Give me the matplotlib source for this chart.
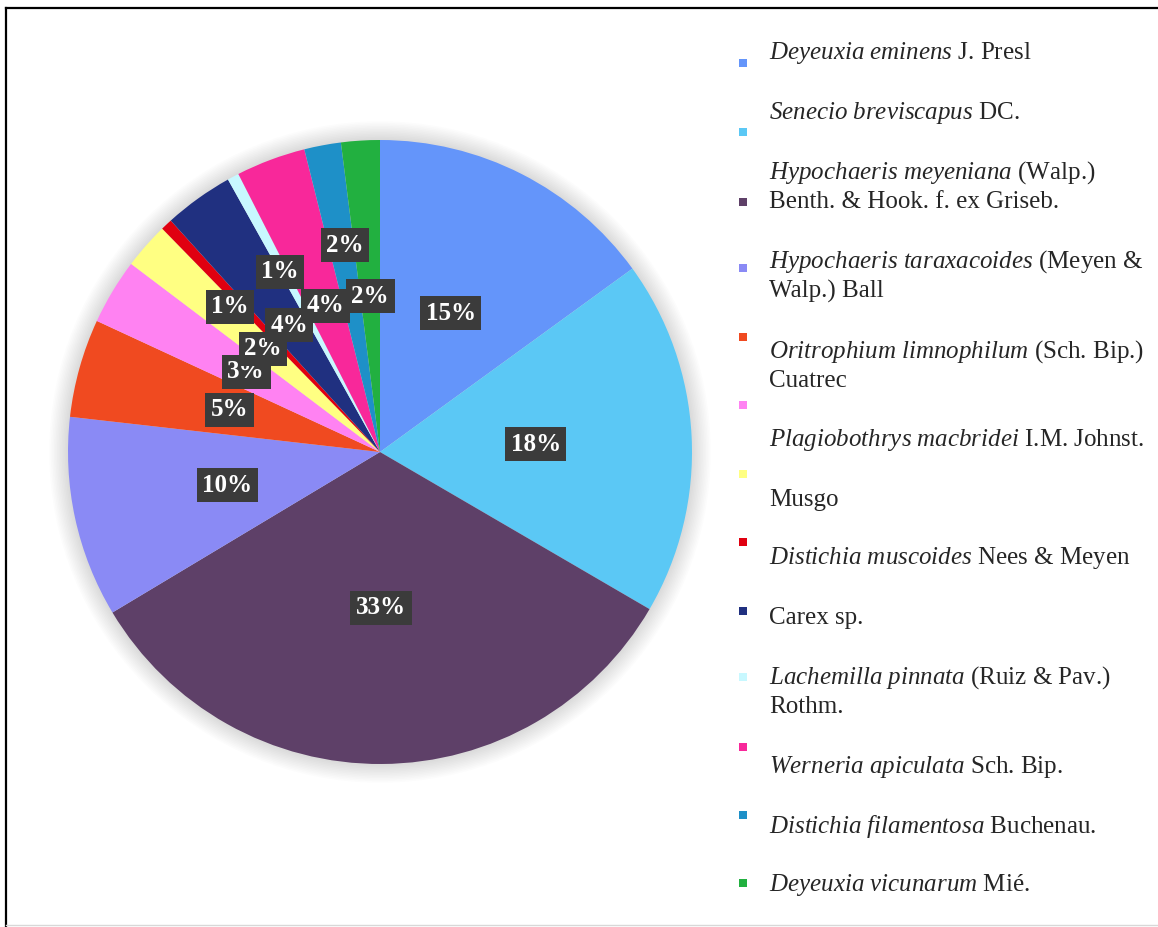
import matplotlib
matplotlib.use("Agg")
import matplotlib.pyplot as plt
from matplotlib.patches import Circle

plt.rcParams["font.family"] = ["Liberation Serif", "DejaVu Serif"]
plt.rcParams["mathtext.fontset"] = "custom"
plt.rcParams["mathtext.rm"] = "Liberation Serif"
plt.rcParams["mathtext.it"] = "Liberation Serif:italic"

# cobertura por especie (%)
valores = [15.0, 18.4, 33.0, 10.4, 5.1, 3.4, 2.4, 0.6, 3.6, 0.6, 3.6, 1.9, 2.0]

colores = ["#6495fa", "#5bc8f5", "#5e4068", "#8a8af5", "#f04a20", "#ff82f2",
           "#ffff82", "#e00010", "#203080", "#c8f8ff", "#f8289a", "#1e90c8",
           "#22b040"]

# nombre en cursiva + autor (en redonda)
especies = ["Deyeuxia eminens", "Senecio breviscapus", "Hypochaeris meyeniana",
            "Hypochaeris taraxacoides", "Oritrophium limnophilum",
            "Plagiobothrys macbridei", "", "Distichia muscoides", "",
            "Lachemilla pinnata", "Werneria apiculata",
            "Distichia filamentosa", "Deyeuxia vicunarum"]
autores = ["J. Presl", "DC.", "(Walp.)\nBenth. & Hook. f. ex Griseb.",
           "(Meyen &\nWalp.) Ball", "(Sch. Bip.)\nCuatrec", "I.M. Johnst.",
           "Musgo", "Nees & Meyen", "Carex sp.", "(Ruiz & Pav.)\nRothm.",
           "Sch. Bip.", "Buchenau.", "Mié."]

# posicion de la leyenda (pixeles): primera linea de texto y marcador
leg_texto_y = [53, 113, 173, 262, 352, 440, 500, 558, 618, 678, 767, 827, 885]
leg_marca_y = [63, 132, 202, 268, 337, 405, 474, 542, 611, 677, 747, 815, 883]

# etiquetas desplazadas a mano (indice -> x, y en radios)
etiq_movidas = {7: (-0.481, 0.465), 9: (-0.321, 0.577), 11: (-0.112, 0.663)}

W, H = 1158, 927
fig = plt.figure(figsize=(W / 100, H / 100), dpi=100)

# capa en pixeles para marco y leyenda
lay = fig.add_axes([0, 0, 1, 1])
lay.set_xlim(0, W)
lay.set_ylim(H, 0)
lay.axis("off")
lay.plot([6, W], [8, 8], color="black", lw=1.6)
lay.plot([6, 6], [8, H], color="black", lw=1.6)
lay.plot([6, W], [925, 925], color="#d8d8d8", lw=1)

# grafico circular (radio 1 = 312 px)
cx, cy, r = 380, 452, 312
m = 1.1
ax = fig.add_axes([(cx - m * r) / W, (H - cy - m * r) / H,
                   2 * m * r / W, 2 * m * r / H])

# sombra difusa alrededor del circulo
for k in range(12):
    ax.add_patch(Circle((0.0, 0.0), 1.0 + 0.005 * (k + 1), color="#808080",
                        alpha=0.022, lw=0, zorder=0))

wedges, textos, autotextos = ax.pie(
    valores, colors=colores, startangle=90, counterclock=False, radius=1,
    autopct=lambda p: f"{p:.0f}%", pctdistance=0.5,
    wedgeprops=dict(linewidth=0),
    textprops=dict(color="white", fontsize=18, fontweight="bold"))
ax.set_xlim(-m, m)
ax.set_ylim(-m, m)
ax.axis("off")

for i, t in enumerate(autotextos):
    if i in etiq_movidas:
        t.set_position(etiq_movidas[i])
    t.set_bbox(dict(boxstyle="square,pad=0.22", facecolor="#3b3b3b",
                    edgecolor="none"))
    t.set_zorder(5)

# leyenda
for i in range(len(valores)):
    lay.scatter(743, leg_marca_y[i], marker="s", s=30, color=colores[i],
                linewidths=0)
    lineas = autores[i].split("\n")
    primera = lineas[0]
    if especies[i]:
        cursiva = especies[i].replace(" ", r"\ ")
        primera = r"$\mathit{" + cursiva + "}$ " + primera
    lineas[0] = primera
    for j, linea in enumerate(lineas):
        lay.text(769, leg_texto_y[i] + 29 * j, linea, fontsize=18,
                 color="#262626", va="center", ha="left")

fig.savefig("out.png", dpi=100)
